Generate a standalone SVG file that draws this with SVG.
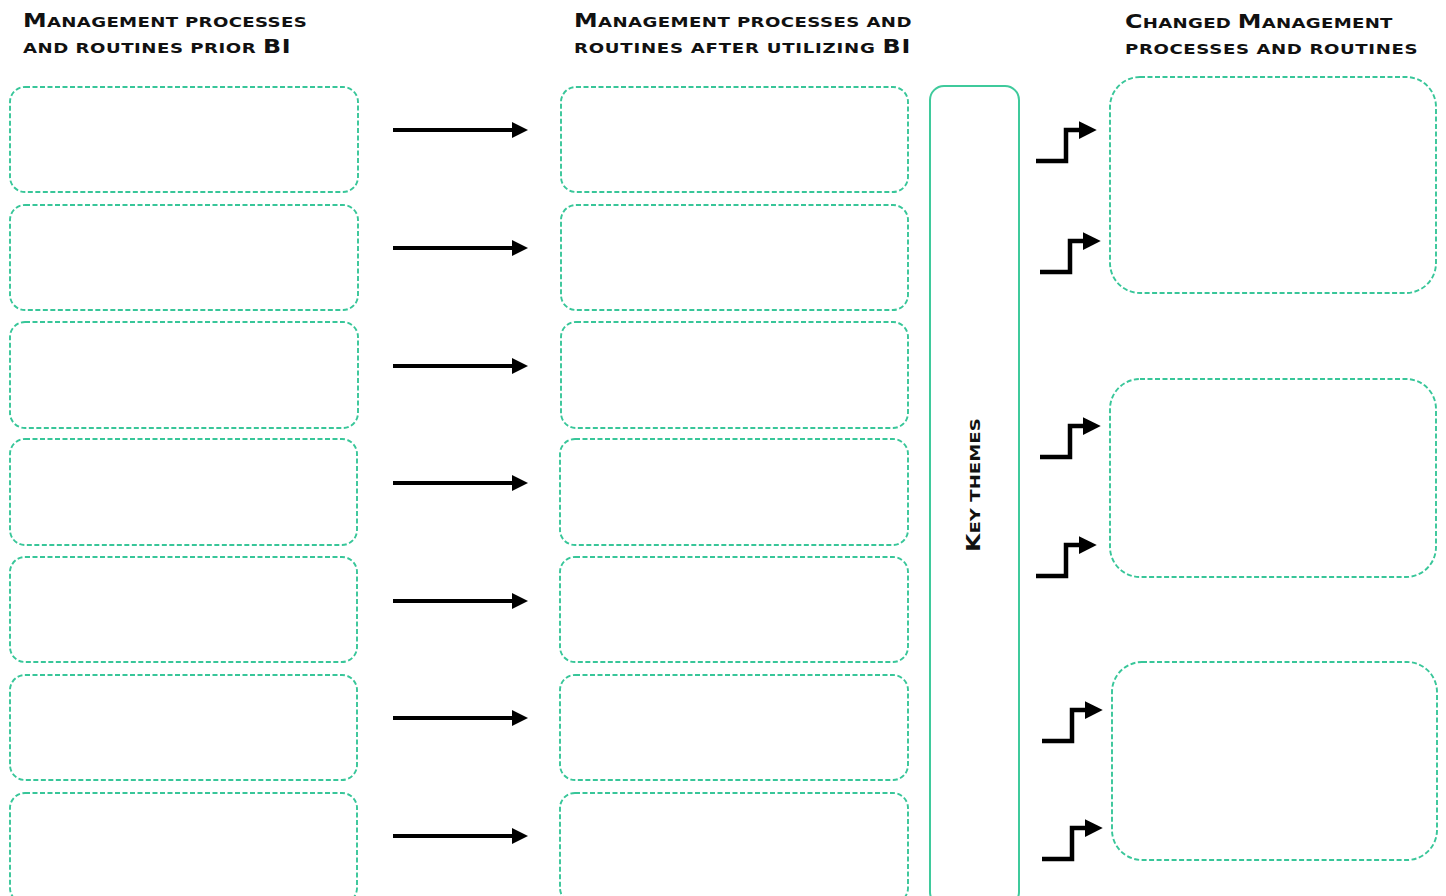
<svg xmlns="http://www.w3.org/2000/svg" width="1446" height="896" viewBox="0 0 1446 896">
<defs>
<style>
.hd{font-family:"DejaVu Sans",sans-serif;font-weight:bold;font-size:14.5px;fill:#111}
.cap{font-size:19px}
.box{fill:none;stroke:#38c699;stroke-width:1.9;stroke-dasharray:5,2.5}
.kt{fill:none;stroke:#3fca9c;stroke-width:2}
.ar{fill:none;stroke:#000;stroke-width:4}
.st{fill:none;stroke:#000;stroke-width:4.5;stroke-linejoin:miter;stroke-linecap:butt}
</style>
<marker id="ah" markerWidth="5" markerHeight="5" refX="0.5" refY="2.5" orient="auto" markerUnits="strokeWidth" viewBox="0 0 5 5">
<path d="M0,0.5 L4,2.5 L0,4.5 Z" fill="#000"/>
</marker>
</defs>
<rect width="1446" height="896" fill="#fff"/>
<g id="headers">
<text class="hd" transform="translate(23,27) scale(1.25,1)" textLength="227" lengthAdjust="spacing"><tspan class="cap">M</tspan>ANAGEMENT PROCESSES</text>
<text class="hd" transform="translate(23,53) scale(1.25,1)" textLength="214" lengthAdjust="spacing">AND ROUTINES PRIOR <tspan class="cap">BI</tspan></text>
<text class="hd" transform="translate(574,27) scale(1.25,1)" textLength="270" lengthAdjust="spacing"><tspan class="cap">M</tspan>ANAGEMENT PROCESSES AND</text>
<text class="hd" transform="translate(574,53) scale(1.25,1)" textLength="269" lengthAdjust="spacing">ROUTINES AFTER UTILIZING <tspan class="cap">BI</tspan></text>
<text class="hd" transform="translate(1125,28) scale(1.25,1)" textLength="214" lengthAdjust="spacing"><tspan class="cap">C</tspan>HANGED <tspan class="cap">M</tspan>ANAGEMENT</text>
<text class="hd" transform="translate(1125,54) scale(1.25,1)" textLength="234" lengthAdjust="spacing">PROCESSES AND ROUTINES</text>
</g>
<g id="prior">
<rect class="box" x="10" y="87" width="348" height="105" rx="15"/>
<rect class="box" x="10" y="205" width="348" height="105" rx="15"/>
<rect class="box" x="10" y="322" width="348" height="106" rx="15"/>
<rect class="box" x="10" y="439" width="347" height="106" rx="15"/>
<rect class="box" x="10" y="557" width="347" height="105" rx="15"/>
<rect class="box" x="10" y="675" width="347" height="105" rx="15"/>
<rect class="box" x="10" y="793" width="347" height="110" rx="15"/>
</g>
<g id="after">
<rect class="box" x="561" y="87" width="347" height="105" rx="15"/>
<rect class="box" x="561" y="205" width="347" height="105" rx="15"/>
<rect class="box" x="561" y="322" width="347" height="106" rx="15"/>
<rect class="box" x="560" y="439" width="348" height="106" rx="15"/>
<rect class="box" x="560" y="557" width="348" height="105" rx="15"/>
<rect class="box" x="560" y="675" width="348" height="105" rx="15"/>
<rect class="box" x="560" y="793" width="348" height="110" rx="15"/>
</g>
<g id="keythemes">
<rect class="kt" x="930" y="86" width="89" height="820" rx="14"/>
<text class="hd" transform="translate(980,552) rotate(-90) scale(1.25,1)" textLength="107" lengthAdjust="spacing"><tspan class="cap">K</tspan>EY THEMES</text>
</g>
<g id="changed">
<rect class="box" x="1110" y="77" width="326" height="216" rx="30"/>
<rect class="box" x="1110" y="379" width="326" height="198" rx="30"/>
<rect class="box" x="1112" y="662" width="325" height="198" rx="30"/>
</g>
<g id="connectors">
<line class="ar" x1="393" y1="130" x2="514" y2="130" marker-end="url(#ah)"/>
<line class="ar" x1="393" y1="248" x2="514" y2="248" marker-end="url(#ah)"/>
<line class="ar" x1="393" y1="366" x2="514" y2="366" marker-end="url(#ah)"/>
<line class="ar" x1="393" y1="483" x2="514" y2="483" marker-end="url(#ah)"/>
<line class="ar" x1="393" y1="601" x2="514" y2="601" marker-end="url(#ah)"/>
<line class="ar" x1="393" y1="718" x2="514" y2="718" marker-end="url(#ah)"/>
<line class="ar" x1="393" y1="836" x2="514" y2="836" marker-end="url(#ah)"/>
<polyline class="st" points="1036,161 1066,161 1066,130 1081,130" marker-end="url(#ah)"/>
<polyline class="st" points="1040,272 1070,272 1070,241 1085,241" marker-end="url(#ah)"/>
<polyline class="st" points="1040,457 1070,457 1070,426 1085,426" marker-end="url(#ah)"/>
<polyline class="st" points="1036,576 1066,576 1066,545 1081,545" marker-end="url(#ah)"/>
<polyline class="st" points="1042,741 1072,741 1072,710 1087,710" marker-end="url(#ah)"/>
<polyline class="st" points="1042,859 1072,859 1072,828 1087,828" marker-end="url(#ah)"/>
</g>
</svg>
